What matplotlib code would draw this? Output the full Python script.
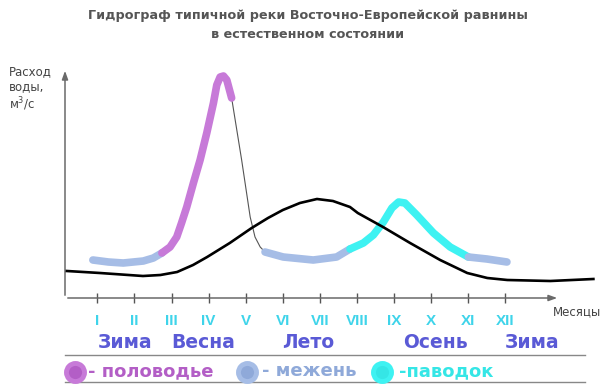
import matplotlib.pyplot as plt
from matplotlib.lines import Line2D

W, H = 614, 392

# hydrograph of the river, split in phases (month, discharge in arbitrary units)
low1_month = [0.88, 1.30, 1.70, 2.24, 2.51, 2.74]
low1_flow = [38, 36, 35, 37, 40, 45]

flood_month = [2.74, 2.96, 3.14, 3.27, 3.41, 3.59, 3.77, 3.95, 4.13, 4.22, 4.31, 4.40, 4.49, 4.62]
flood_flow = [45, 51, 61, 75, 91, 115, 138, 165, 195, 213, 221, 222, 218, 200]

fall_month = [4.62, 4.89, 5.12, 5.25, 5.39, 5.52]
fall_flow = [200, 138, 81, 61, 51, 46]

low2_month = [5.52, 6.01, 6.82, 7.45, 7.81]
low2_flow = [46, 41, 38, 41, 49]

freshet_month = [7.81, 8.17, 8.44, 8.71, 8.94, 9.12, 9.29, 9.61, 10.06, 10.51, 11.00]
freshet_flow = [49, 55, 63, 76, 90, 96, 95, 83, 65, 51, 41]

low3_month = [11.00, 11.50, 12.04]
low3_flow = [41, 39, 36]

# black curve
black_month = [0.18, 1.07, 2.23, 2.70, 3.15, 3.58, 3.96, 4.57, 5.16, 5.60, 6.00, 6.46, 6.92,
               7.35, 7.81, 8.02, 8.70, 9.43, 10.24, 10.97, 11.51, 12.05, 13.21, 14.37]
black_flow = [27, 25, 22, 23, 26, 33, 41, 55, 70, 80, 88, 95, 99,
              97, 91, 85, 71, 55, 38, 25, 20, 18, 17, 19]

months = list(range(1, 13))
roman = ["I", "II", "III", "IV", "V", "VI", "VII", "VIII", "IX", "X", "XI", "XII"]
seasons = ["Зима", "Весна", "Лето", "Осень", "Зима"]
season_x = [125, 203, 308, 435, 532]

PURPLE = "#c77ad8"
BLUE = "#a6bde6"
CYAN = "#3ef2f2"
AXIS = "#6a6a6a"


def px(x, y):
    return x / W, 1 - y / H


fig = plt.figure(figsize=(W / 100, H / 100), dpi=100)
fig.patch.set_facecolor("white")
ax = fig.add_axes([65 / W, (H - 298) / H, (560 - 65) / W, (298 - 68) / H])
ax.set_xlim(0.129, 13.47)
ax.set_ylim(0, 230)
for s in ax.spines.values():
    s.set_visible(False)

# axes with arrows
ax.annotate("", xy=(1, 0), xytext=(0, 0), xycoords="axes fraction",
            arrowprops=dict(arrowstyle="-|>,head_length=0.5,head_width=0.18", color=AXIS, lw=1.1))
ax.annotate("", xy=(0, 1), xytext=(0, 0), xycoords="axes fraction",
            arrowprops=dict(arrowstyle="-|>,head_length=0.5,head_width=0.18", color=AXIS, lw=1.1))

ax.set_xticks(months)
ax.set_xticklabels(roman, color="#3fd4ea", fontweight="bold", fontsize=11,
                   family="Liberation Sans")
ax.tick_params(axis="x", direction="inout", length=7.5, width=1, color="#555555", pad=8)
ax.set_yticks([])

# thin hydrograph + phase highlights
for m, f in [(low1_month, low1_flow), (flood_month, flood_flow), (fall_month, fall_flow),
             (low2_month, low2_flow), (freshet_month, freshet_flow), (low3_month, low3_flow)]:
    ax.plot(m, f, color="#555555", lw=0.8, zorder=2)
for m, f, c in [(low1_month, low1_flow, BLUE), (flood_month, flood_flow, PURPLE),
                (low2_month, low2_flow, BLUE), (freshet_month, freshet_flow, CYAN),
                (low3_month, low3_flow, BLUE)]:
    ax.plot(m, f, color=c, lw=5.5, solid_capstyle="round", zorder=3)

ax.plot(black_month, black_flow, color="black", lw=1.9, clip_on=False, zorder=4)

# titles and labels
fig.text(*px(308, 15), "Гидрограф типичной реки Восточно-Европейской равнины",
         ha="center", va="center", fontsize=9.2, fontweight="bold", color="#555555")
fig.text(*px(308, 35), "в естественном состоянии",
         ha="center", va="center", fontsize=9.2, fontweight="bold", color="#555555")
fig.text(*px(9, 89), "Расход\nводы,\nм$^3$/с", ha="left", va="center",
         fontsize=8.5, color="#444444", linespacing=1.2)
fig.text(*px(553, 312), "Месяцы", ha="left", va="center", fontsize=8.5, color="#444444")

for name, x in zip(seasons, season_x):
    fig.text(*px(x, 343), name, ha="center", va="center", fontsize=13.5,
             fontweight="bold", color="#5a5ad6")

for y in (355, 382):
    fig.add_artist(Line2D([65 / W, 585 / W], [1 - y / H, 1 - y / H], color="#888888", lw=1))

legend = [(75, PURPLE, "#b35ec6", "- половодье", 88),
          (247, BLUE, "#8fa9d9", "- межень", 262),
          (382, CYAN, "#35e6e6", "-паводок", 399)]
for cx, c, tc, label, tx in legend:
    fig.add_artist(Line2D([cx / W], [1 - 372 / H], marker="o", markersize=13,
                          markerfacecolor=tc, markeredgecolor=c, markeredgewidth=3.5))
    fig.text(*px(tx, 371), label, ha="left", va="center", fontsize=13,
             fontweight="bold", color=tc)

fig.savefig("out.png", dpi=100, facecolor="white")
